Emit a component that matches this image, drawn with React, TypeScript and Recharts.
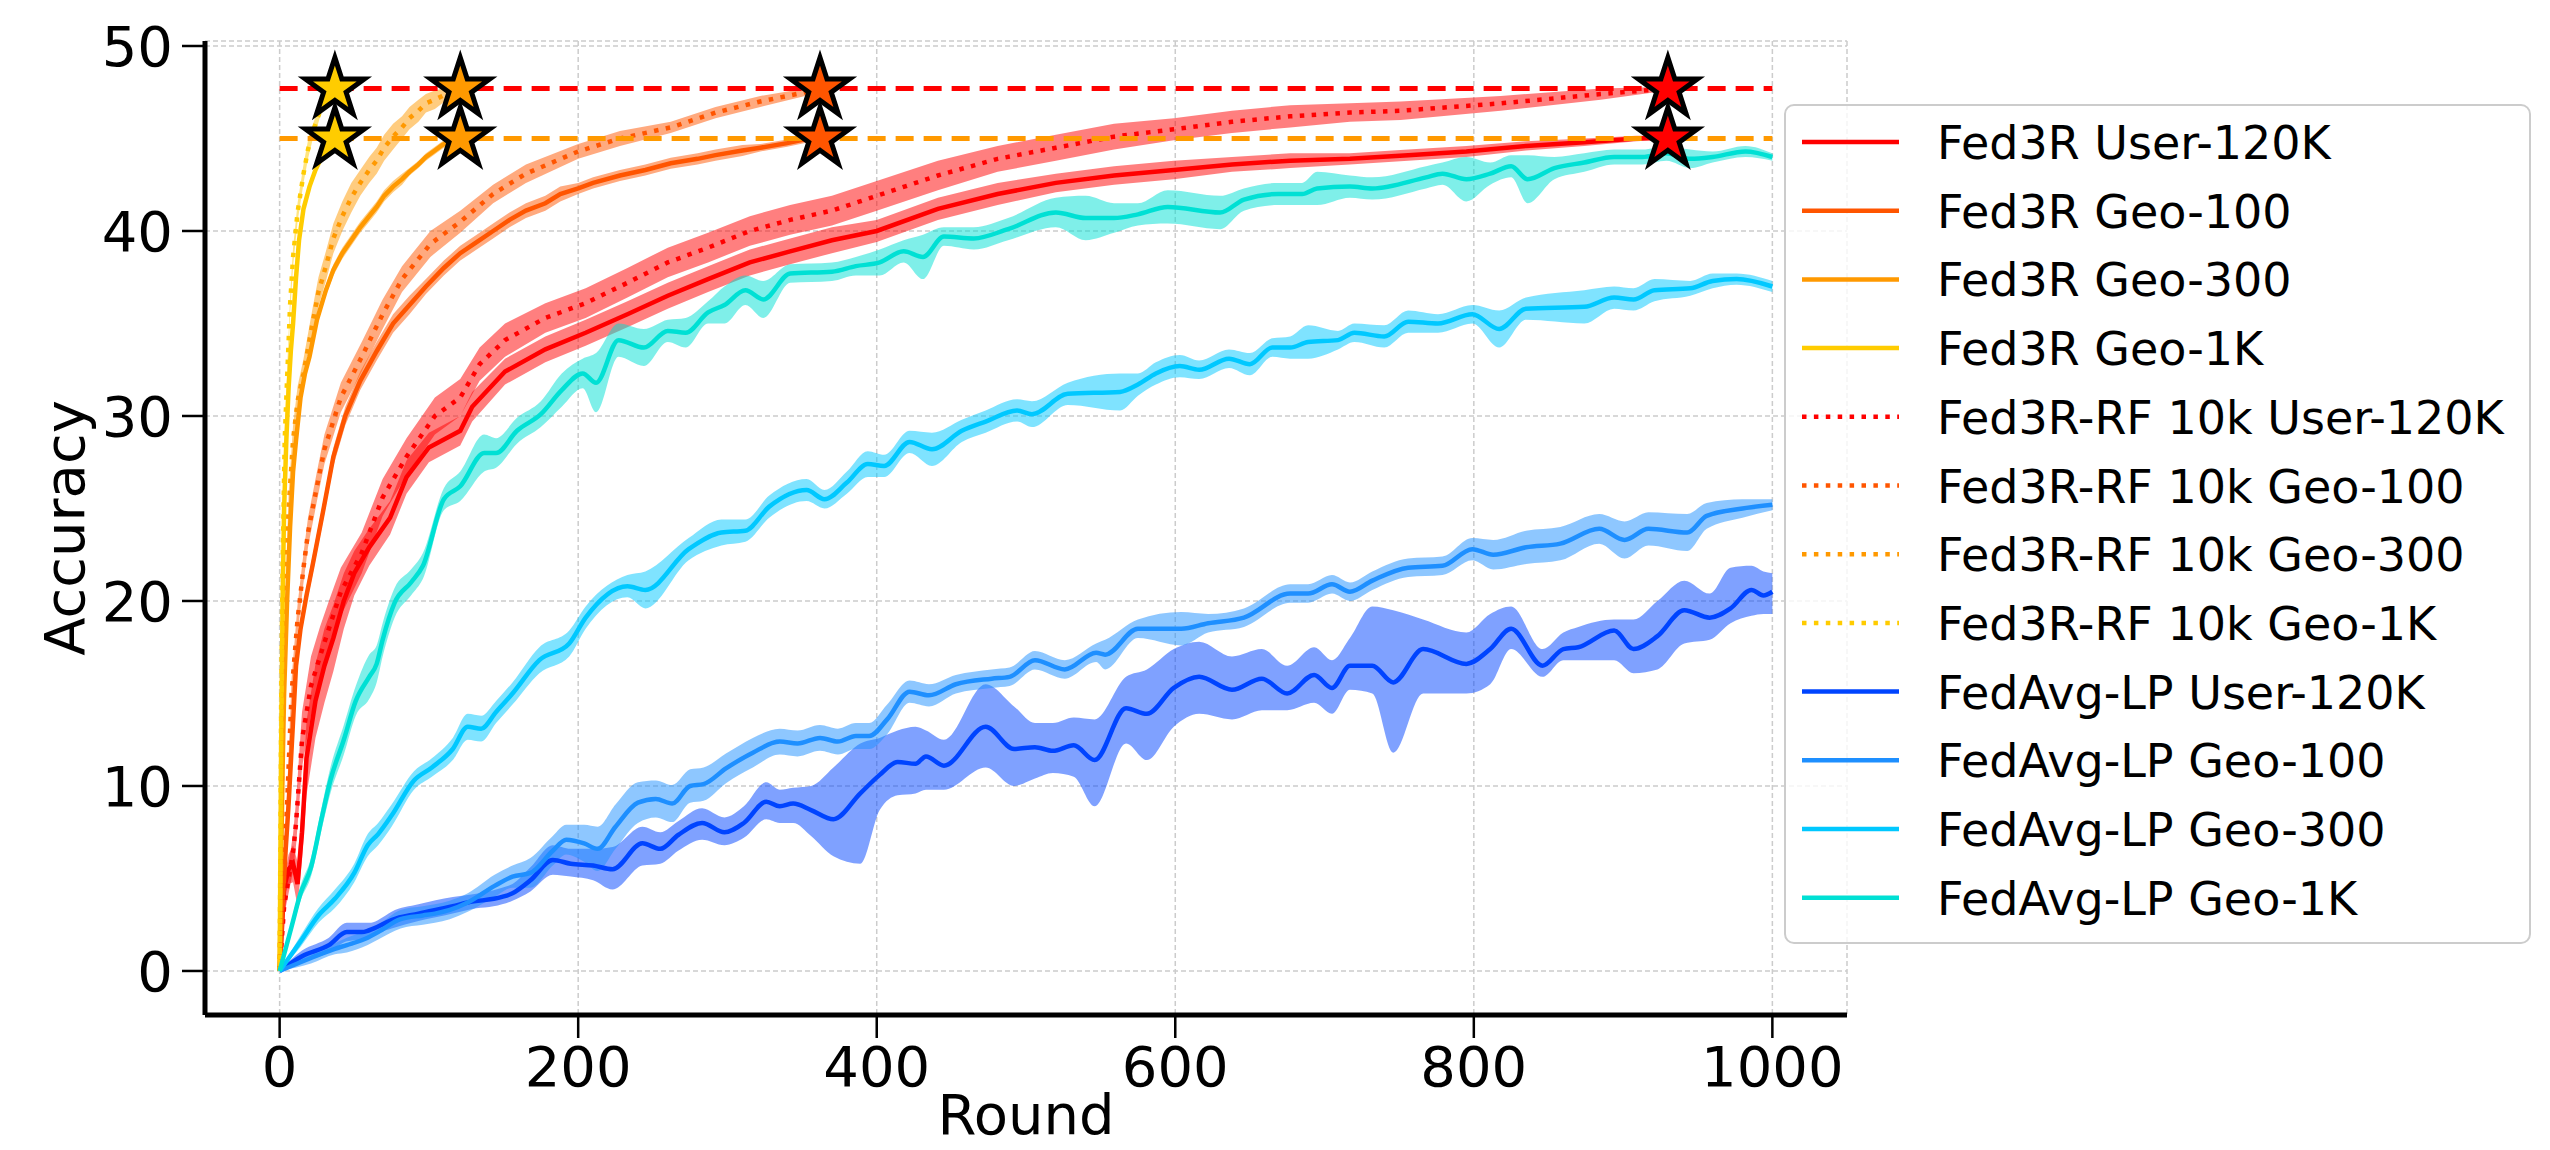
import React from 'react';
import { ComposedChart, Line, Area, XAxis, YAxis, CartesianGrid, Scatter } from 'recharts';

const FONT = 'DejaVu Sans';

// ---------- axis ticks ----------
const X_TICKS = [0, 200, 400, 600, 800, 1000];
const Y_TICKS = [0, 10, 20, 30, 40, 50];

// ---------- Fed3R User-120K ----------
const R_F3_USER = [0,3,6,9,12,15,18,24,30,36,43,50,60,74,85,100,121,129,151,178,205,233,260,287,315,342,370,400,441,481,520,559,599,638,677,717,756,795,835,874,909,930];
const V_F3_USER = [0,4.5,5.5,5.8,4.7,7.5,11.5,14.6,16.5,18.0,20.0,21.5,22.9,24.5,26.7,28.3,29.2,30.5,32.4,33.6,34.5,35.5,36.5,37.4,38.3,38.9,39.5,40.0,41.2,42.0,42.6,43.0,43.3,43.6,43.8,43.9,44.1,44.3,44.6,44.8,45.0,45.05];
const S_F3_USER = [0,0.5,0.8,1.0,1.2,1.5,2.0,2.0,2.0,1.8,1.5,1.2,1.0,0.9,0.9,0.8,0.8,0.8,0.7,0.7,0.7,0.7,0.7,0.7,0.7,0.7,0.7,0.6,0.6,0.6,0.5,0.5,0.5,0.4,0.4,0.3,0.3,0.3,0.25,0.2,0.15,0.1];

// ---------- Fed3R Geo-100 ----------
const R_F3_G100 = [0,2,4,6,9,11,14,18,22,29,36,44,54,65,76,87,98,110,121,132,143,154,165,178,188,200,210,228,245,262,280,292,310,322,340,352,362];
const V_F3_G100 = [0,3.5,6.5,9,13.5,16.5,18.5,20.3,21.9,24.8,27.8,30.0,31.9,33.5,35.0,36.0,37.0,38.0,38.8,39.4,40.0,40.6,41.1,41.5,42.0,42.3,42.6,43.0,43.3,43.66,43.9,44.1,44.35,44.5,44.75,44.96,45.0];
const S_F3_G100 = [0,0.3,0.4,0.5,0.5,0.5,0.5,0.5,0.5,0.5,0.5,0.5,0.5,0.5,0.5,0.5,0.4,0.4,0.4,0.4,0.4,0.4,0.4,0.4,0.4,0.3,0.3,0.3,0.3,0.3,0.3,0.3,0.3,0.2,0.2,0.2,0.1];

// ---------- Fed3R Geo-300 ----------
const R_F3_G300 = [0,1,2,3,5,7,9,11,14,17,20,25,31,36,42,48,54,60,65,70,76,82,87,93,98,104,109,114,118,121];
const V_F3_G300 = [0,6,11,15,20,24,27,28.7,31,32.3,33.2,35.2,36.8,37.9,38.8,39.5,40.2,40.8,41.3,41.9,42.4,42.8,43.2,43.6,44.0,44.35,44.65,44.85,44.95,45.0];
const S_F3_G300 = [0,0.3,0.4,0.4,0.4,0.4,0.4,0.4,0.4,0.3,0.3,0.3,0.3,0.3,0.3,0.3,0.3,0.3,0.3,0.3,0.3,0.3,0.2,0.2,0.2,0.2,0.2,0.2,0.1,0.1];

// ---------- Fed3R Geo-1K ----------
const R_F3_G1K = [0,1,2,3,4.5,6,7.5,9,11,13,16,20,24,27,30,33.5,37];
const V_F3_G1K = [0,12,20,25,28.7,31.5,33.5,35.0,37.5,39.5,41.2,42.4,43.3,43.8,44.3,44.7,45.0];
const S_F3_G1K = [0,0.3,0.3,0.3,0.3,0.3,0.3,0.3,0.3,0.3,0.3,0.3,0.2,0.2,0.2,0.2,0.1];

// ---------- Fed3R-RF 10k User-120K ----------
const R_RF_USER = [0,3,6,9,11,15,21,27,33,41,55,69,85,104,121,134,151,178,205,233,260,287,315,342,370,400,441,481,520,559,599,638,677,717,751,818,885,930];
const V_RF_USER = [0,3.5,5.0,6.4,8.0,12.5,15.4,17.0,18.5,20.5,22.6,25.6,27.8,30.0,31.0,32.8,34.1,35.3,36.1,37.2,38.3,39.1,40.0,40.6,41.1,41.9,43.0,43.9,44.5,45.1,45.5,45.9,46.2,46.4,46.5,46.9,47.4,47.7];
const S_RF_USER = [0,0.5,0.8,1.0,1.2,1.5,1.6,1.6,1.5,1.3,1.1,1.0,1.0,1.0,1.0,0.9,0.9,0.8,0.8,0.8,0.8,0.8,0.8,0.8,0.8,0.8,0.8,0.7,0.7,0.7,0.6,0.6,0.6,0.5,0.5,0.4,0.3,0.1];

// ---------- Fed3R-RF 10k Geo-100 ----------
const R_RF_G100 = [0,2,5,8,12,16,19,25,30,41,55,69,82,101,121,143,165,200,228,262,292,322,352,362];
const V_RF_G100 = [0,4,9,15,19,21.8,23.7,26.2,28.2,31.0,33.2,35.5,37.4,39.3,40.5,42.0,43.1,44.3,45.0,45.6,46.4,47.0,47.5,47.7];
const S_RF_G100 = [0,0.4,0.6,0.8,0.8,0.8,0.8,0.8,0.8,0.8,0.8,0.8,0.7,0.7,0.6,0.5,0.5,0.4,0.4,0.3,0.3,0.3,0.2,0.1];

// ---------- Fed3R-RF 10k Geo-300 ----------
const R_RF_G300 = [0,1,2,4,6,9,12,16,22,26,31,36,42,48,54,60,65,70,76,82,87,93,98,104,109,115,121];
const V_RF_G300 = [0,7,13,20,25,28.7,30.8,32.3,35.0,36.7,38.1,39.6,40.8,41.8,42.6,43.3,43.8,44.5,45.1,45.6,46.1,46.5,46.9,47.1,47.3,47.55,47.7];
const S_RF_G300 = [0,0.5,0.6,0.7,0.8,0.8,0.8,0.8,0.8,0.8,0.8,0.8,0.8,0.8,0.7,0.7,0.7,0.7,0.7,0.6,0.6,0.6,0.5,0.5,0.4,0.3,0.2];

// ---------- Fed3R-RF 10k Geo-1K ----------
const R_RF_G1K = [0,1,2,3.4,5,7,9,12,16,19,22,25,28,32,37];
const V_RF_G1K = [0,14,22,28.7,32,36,38.6,41.0,43.1,44.4,45.3,46.0,46.7,47.2,47.7];
const S_RF_G1K = [0,0.4,0.5,0.5,0.5,0.5,0.5,0.5,0.5,0.5,0.4,0.4,0.3,0.3,0.1];

// ---------- FedAvg-LP User-120K ----------
const R_FA_USER = [0,15,33,45,55,60,71,75,93,116,126,149,156,168,183,195,210,223,243,255,267,283,298,311,326,335,344,356,371,389,402,414,426,433,445,473,492,506,518,532,546,567,581,599,616,638,658,675,693,705,717,732,746,766,795,811,825,846,860,870,894,907,923,941,958,972,986,994,1000];
const V_FA_USER = [0,0.8,1.4,2.1,2.1,2.2,2.6,2.75,3.1,3.5,3.7,4.0,4.2,4.9,6.0,5.8,5.7,5.5,6.9,6.6,7.35,8.0,7.5,8.0,9.15,8.9,9.05,8.7,8.2,9.6,10.6,11.3,11.2,11.6,11.1,13.2,12.0,12.1,11.9,12.2,11.4,14.2,13.9,15.3,15.9,15.2,15.8,15.0,16.0,15.3,16.5,16.5,15.6,17.4,16.6,17.4,18.5,16.5,17.4,17.5,18.4,17.4,18.1,19.5,19.1,19.6,20.6,20.3,20.5];
const LO_FA_USER = [0,0.5,1.0,1.6,1.7,1.8,2.2,2.3,2.7,3.1,3.3,3.6,3.8,4.3,5.2,5.1,4.9,4.4,5.7,5.8,6.5,7.1,6.8,7.2,8.2,8.0,8.0,7.3,6.2,5.8,8.7,9.5,9.6,9.8,9.8,11.0,10.0,10.4,10.7,10.5,8.9,12.3,11.4,13.2,13.9,13.6,14.1,14.1,14.5,13.9,15.2,15.0,11.8,15.0,15.0,15.5,17.4,15.9,16.8,16.8,16.8,16.1,16.3,17.7,17.9,18.8,19.2,19.3,19.3];
const HI_FA_USER = [0,1.1,1.8,2.6,2.6,2.6,3.0,3.2,3.6,4.0,4.1,4.5,4.7,5.6,6.8,6.6,6.6,6.7,7.8,7.5,8.1,8.8,8.3,8.9,10.2,9.8,9.9,10.0,11.0,12.3,12.6,13.0,13.2,13.0,12.5,15.5,14.3,13.4,13.4,13.7,13.6,15.9,16.3,17.4,17.8,17.0,17.4,16.5,17.5,16.8,18.0,19.7,19.5,19.0,18.3,19.3,19.7,17.4,18.3,18.6,19.0,19.0,20.0,21.1,20.4,21.8,21.9,21.6,21.5];

// ---------- FedAvg-LP Geo-100 ----------
const R_FA_G100 = [0,21,37,45,59,66,81,96,104,114,126,144,156,168,183,192,204,213,225,240,252,263,275,284,299,317,335,347,362,374,386,395,407,422,435,453,477,489,506,526,547,553,575,604,622,646,677,689,705,717,732,756,779,799,813,835,858,884,901,917,943,956,980,1000];
const V_FA_G100 = [0,0.7,1.2,1.4,1.8,2.1,2.8,3.0,3.1,3.3,3.7,4.6,5.1,5.3,6.5,7.1,6.9,6.6,7.8,9.1,9.3,9.05,10.0,10.1,10.95,11.8,12.4,12.3,12.6,12.4,12.7,12.7,13.6,15.1,14.9,15.5,15.8,15.9,16.8,16.3,17.2,17.1,18.5,18.5,18.8,19.1,20.4,20.4,20.9,20.5,21.1,21.8,21.9,22.8,22.5,22.9,23.1,23.9,23.3,23.9,23.7,24.6,25.0,25.2];
const S_FA_G100 = [0,0.3,0.3,0.4,0.4,0.4,0.5,0.5,0.5,0.5,0.5,0.6,0.6,0.8,0.8,0.8,1.0,1.2,1.2,1.1,1.0,1.0,0.9,0.9,0.8,0.8,0.7,0.7,0.7,0.7,0.7,0.7,0.8,0.6,0.6,0.5,0.5,0.5,0.5,0.5,0.5,0.8,0.5,0.9,0.5,0.5,0.5,0.5,0.5,0.5,0.5,0.5,0.5,0.6,0.8,0.9,0.9,0.8,1.0,0.9,1.0,0.7,0.5,0.3];

// ---------- FedAvg-LP Geo-300 ----------
const R_FA_G300 = [0,14,26,37,50,59,66,75,90,102,116,126,135,145,156,174,194,205,233,245,274,296,312,328,353,365,380,394,405,422,437,457,473,494,504,528,563,575,587,603,616,636,650,665,677,689,709,720,740,756,776,799,817,835,874,894,907,921,945,960,976,1000];
const V_FA_G300 = [0,1.6,3.0,3.9,5.3,6.8,7.4,8.4,10.3,11.0,12.0,13.2,13.1,14.0,15.0,16.8,17.7,19.1,20.8,20.6,22.8,23.7,23.8,25.1,26.0,25.5,26.4,27.4,27.3,28.6,28.2,29.2,29.7,30.3,30.1,31.2,31.3,31.7,32.3,32.7,32.5,33.1,32.8,33.7,33.7,34.0,34.1,34.5,34.3,35.1,35.0,35.5,34.7,35.8,35.9,36.4,36.3,36.8,36.9,37.3,37.4,37.0];
const S_FA_G300 = [0,0.3,0.4,0.5,0.5,0.6,0.6,0.6,0.5,0.5,0.6,0.7,0.7,0.6,0.6,0.7,0.7,0.6,0.6,1.0,0.6,0.7,0.6,0.6,0.6,0.5,0.6,0.7,0.6,0.6,0.9,0.6,0.6,0.6,0.7,0.6,1.0,0.6,0.6,0.6,0.5,0.5,0.6,0.5,0.6,0.9,0.5,0.5,0.6,0.6,0.5,0.5,1.0,0.6,0.9,0.6,0.6,0.6,0.4,0.4,0.3,0.3];

// ---------- FedAvg-LP Geo-1K ----------
const R_FA_G1K = [0,8,14,21,28,34,43,51,60,65,69,77,88,96,110,121,137,145,159,175,189,203,212,227,244,260,272,287,298,312,324,342,370,386,402,418,431,445,465,488,520,540,559,575,595,630,646,669,685,695,717,732,768,779,795,811,825,836,854,874,894,913,929,945,960,982,1000];
const V_FA_G1K = [0,2.4,4.2,5.6,8.2,10.3,12.5,14.6,15.9,16.6,17.9,19.9,21.0,21.9,25.5,26.2,28.0,28.0,29.2,30.1,31.4,32.3,31.8,34.1,33.7,34.6,34.5,35.6,36.0,36.8,36.3,37.7,37.8,38.1,38.3,38.9,38.6,39.7,39.6,40.1,41.0,40.7,40.7,40.9,41.3,41.0,41.7,42.0,42.0,42.3,42.4,42.3,42.9,43.1,42.8,43.1,43.5,42.8,43.4,43.7,44.0,44.0,44.2,43.9,44.0,44.3,44.0];
const S_FA_G1K = [0,0.3,0.4,0.5,0.6,0.7,0.8,0.8,1.2,1.0,0.9,0.8,0.7,0.7,0.6,0.8,1.0,0.8,0.7,0.7,0.9,0.8,1.6,0.9,1.0,0.6,0.8,0.6,1.0,0.8,1.0,0.5,0.5,0.5,0.7,0.6,1.2,0.5,0.6,0.6,0.8,1.2,0.8,0.6,0.9,0.9,0.6,0.6,0.6,0.9,0.6,0.6,0.6,0.6,1.2,0.6,0.6,1.3,0.6,0.5,0.4,0.4,0.4,0.5,0.3,0.3,0.2];

// ---------- targets & stars ----------
const TARGET_RF = 47.7;
const TARGET_F3 = 45.0;
const STAR_ROUNDS = [37, 121, 362, 930];

const COLORS = {
  user: '#ff0000',
  g100: '#ff5500',
  g300: '#ff9900',
  g1k: '#ffcc00',
  faUser: '#0044ff',
  faG100: '#1e8fff',
  faG300: '#00c8ff',
  faG1k: '#00e0d4',
};
const STAR_COLORS = [COLORS.g1k, COLORS.g300, COLORS.g100, COLORS.user];

type Series = {
  name: string;
  color: string;
  dotted: boolean;
  curve: 'linear' | 'monotone';
  rounds: number[];
  values: number[];
  lo: number[];
  hi: number[];
};

const sym = (v: number[], s: number[], sign: number) => v.map((x, i) => x + sign * s[i]);

const SERIES: Series[] = [
  { name: 'Fed3R User-120K', color: COLORS.user, dotted: false, curve: 'linear', rounds: R_F3_USER, values: V_F3_USER, lo: sym(V_F3_USER, S_F3_USER, -1), hi: sym(V_F3_USER, S_F3_USER, 1) },
  { name: 'Fed3R Geo-100', color: COLORS.g100, dotted: false, curve: 'linear', rounds: R_F3_G100, values: V_F3_G100, lo: sym(V_F3_G100, S_F3_G100, -1), hi: sym(V_F3_G100, S_F3_G100, 1) },
  { name: 'Fed3R Geo-300', color: COLORS.g300, dotted: false, curve: 'linear', rounds: R_F3_G300, values: V_F3_G300, lo: sym(V_F3_G300, S_F3_G300, -1), hi: sym(V_F3_G300, S_F3_G300, 1) },
  { name: 'Fed3R Geo-1K', color: COLORS.g1k, dotted: false, curve: 'linear', rounds: R_F3_G1K, values: V_F3_G1K, lo: sym(V_F3_G1K, S_F3_G1K, -1), hi: sym(V_F3_G1K, S_F3_G1K, 1) },
  { name: 'Fed3R-RF 10k User-120K', color: COLORS.user, dotted: true, curve: 'linear', rounds: R_RF_USER, values: V_RF_USER, lo: sym(V_RF_USER, S_RF_USER, -1), hi: sym(V_RF_USER, S_RF_USER, 1) },
  { name: 'Fed3R-RF 10k Geo-100', color: COLORS.g100, dotted: true, curve: 'linear', rounds: R_RF_G100, values: V_RF_G100, lo: sym(V_RF_G100, S_RF_G100, -1), hi: sym(V_RF_G100, S_RF_G100, 1) },
  { name: 'Fed3R-RF 10k Geo-300', color: COLORS.g300, dotted: true, curve: 'linear', rounds: R_RF_G300, values: V_RF_G300, lo: sym(V_RF_G300, S_RF_G300, -1), hi: sym(V_RF_G300, S_RF_G300, 1) },
  { name: 'Fed3R-RF 10k Geo-1K', color: COLORS.g1k, dotted: true, curve: 'linear', rounds: R_RF_G1K, values: V_RF_G1K, lo: sym(V_RF_G1K, S_RF_G1K, -1), hi: sym(V_RF_G1K, S_RF_G1K, 1) },
  { name: 'FedAvg-LP User-120K', color: COLORS.faUser, dotted: false, curve: 'monotone', rounds: R_FA_USER, values: V_FA_USER, lo: LO_FA_USER, hi: HI_FA_USER },
  { name: 'FedAvg-LP Geo-100', color: COLORS.faG100, dotted: false, curve: 'monotone', rounds: R_FA_G100, values: V_FA_G100, lo: sym(V_FA_G100, S_FA_G100, -1), hi: sym(V_FA_G100, S_FA_G100, 1) },
  { name: 'FedAvg-LP Geo-300', color: COLORS.faG300, dotted: false, curve: 'monotone', rounds: R_FA_G300, values: V_FA_G300, lo: sym(V_FA_G300, S_FA_G300, -1), hi: sym(V_FA_G300, S_FA_G300, 1) },
  { name: 'FedAvg-LP Geo-1K', color: COLORS.faG1k, dotted: false, curve: 'monotone', rounds: R_FA_G1K, values: V_FA_G1K, lo: sym(V_FA_G1K, S_FA_G1K, -1), hi: sym(V_FA_G1K, S_FA_G1K, 1) },
];

const LINE_W = 4.5;
const DOT_DASH = '4.5 7.4';

const STAR_DATA = [
  ...STAR_ROUNDS.map((r, i) => ({ r, v: TARGET_RF, c: STAR_COLORS[i] })),
  ...STAR_ROUNDS.map((r, i) => ({ r, v: TARGET_F3, c: STAR_COLORS[i] })),
];
const TARGET_RF_LINE = [{ r: 0, v: TARGET_RF }, { r: 1000, v: TARGET_RF }];
const TARGET_F3_LINE = [{ r: 0, v: TARGET_F3 }, { r: 1000, v: TARGET_F3 }];

function starPath(cx: number, cy: number, R: number) {
  let d = '';
  for (let i = 0; i < 10; i++) {
    const a = -Math.PI / 2 + (i * Math.PI) / 5;
    const rr = i % 2 === 0 ? R : R * 0.382;
    d += (i ? 'L' : 'M') + (cx + rr * Math.cos(a)).toFixed(2) + ',' + (cy + rr * Math.sin(a)).toFixed(2);
  }
  return d + 'Z';
}

const StarShape = (p: any) => {
  if (p.cx == null || p.cy == null) return null;
  const c = (p.payload && p.payload.c) || '#f00';
  return <path d={starPath(p.cx, p.cy, 31)} fill={c} stroke="#000" strokeWidth={5} strokeLinejoin="miter" />;
};

const LEG_X = 1785;
const LEG_Y = 105;
const LEG_W = 745;
const LEG_H = 838;
const LEG_ROW0 = 142;
const LEG_STEP = 68.7;

export default function App() {
  return (
    <div style={{ position: 'absolute', left: 0, top: 0, width: 2550, height: 1150, background: '#fff' }}>
      <ComposedChart width={2550} height={1150} margin={{ top: 41, right: 703, bottom: 0, left: 0 }}>
        <CartesianGrid stroke="#cccccc" strokeDasharray="5 3" strokeWidth={1.5} />
        <XAxis
          type="number"
          dataKey="r"
          domain={[-50, 1050]}
          ticks={X_TICKS}
          allowDataOverflow
          height={135}
          axisLine={{ stroke: '#000', strokeWidth: 5 }}
          tickLine={{ stroke: '#000', strokeWidth: 2.5 }}
          tickSize={23}
          tickMargin={8}
          tick={{ fontSize: 56, fill: '#000', fontFamily: FONT }}
        />
        <YAxis
          type="number"
          domain={[-2.38, 50.27]}
          ticks={Y_TICKS}
          allowDataOverflow
          width={205}
          axisLine={{ stroke: '#000', strokeWidth: 5 }}
          tickLine={{ stroke: '#000', strokeWidth: 2.5 }}
          tickSize={23}
          tickMargin={9}
          tick={{ fontSize: 56, fill: '#000', fontFamily: FONT }}
        />
        {SERIES.map((s, k) => (
          <Area
            key={'band' + k}
            data={s.rounds.map((r, i) => ({ r, band: [s.lo[i], s.hi[i]] }))}
            dataKey="band"
            type={s.curve}
            stroke="none"
            fill={s.color}
            fillOpacity={0.5}
            isAnimationActive={false}
            dot={false}
            activeDot={false}
          />
        ))}
        {SERIES.map((s, k) => (
          <Line
            key={'line' + k}
            data={s.rounds.map((r, i) => ({ r, v: s.values[i] }))}
            dataKey="v"
            type={s.curve}
            stroke={s.color}
            strokeWidth={LINE_W}
            strokeDasharray={s.dotted ? DOT_DASH : undefined}
            dot={false}
            activeDot={false}
            isAnimationActive={false}
          />
        ))}
        <Line data={TARGET_RF_LINE} dataKey="v" type="linear" stroke="#ff0000" strokeWidth={5} strokeDasharray="18 10" dot={false} activeDot={false} isAnimationActive={false} />
        <Line data={TARGET_F3_LINE} dataKey="v" type="linear" stroke="#ff9900" strokeWidth={5} strokeDasharray="18 10" dot={false} activeDot={false} isAnimationActive={false} />
        <Scatter data={STAR_DATA} dataKey="v" shape={StarShape} isAnimationActive={false} />
      </ComposedChart>
      <svg width={2550} height={1150} style={{ position: 'absolute', left: 0, top: 0, pointerEvents: 'none' }}>
        <text x={1026} y={1134} textAnchor="middle" fontSize={56} fontFamily={FONT} fill="#000">Round</text>
        <text x={84} y={528} textAnchor="middle" fontSize={56} fontFamily={FONT} fill="#000" transform="rotate(-90 84 528)">Accuracy</text>
        <rect x={LEG_X} y={LEG_Y} width={LEG_W} height={LEG_H} rx={9} ry={9} fill="#fff" fillOpacity={0.8} stroke="#cccccc" strokeWidth={2} />
        {SERIES.map((s, i) => {
          const y = LEG_ROW0 + i * LEG_STEP;
          return (
            <g key={'leg' + i}>
              <line x1={1802} x2={1899} y1={y} y2={y} stroke={s.color} strokeWidth={LINE_W} strokeDasharray={s.dotted ? DOT_DASH : undefined} />
              <text x={1937} y={y + 17} fontSize={46} fontFamily={FONT} fill="#000">{s.name}</text>
            </g>
          );
        })}
      </svg>
    </div>
  );
}
